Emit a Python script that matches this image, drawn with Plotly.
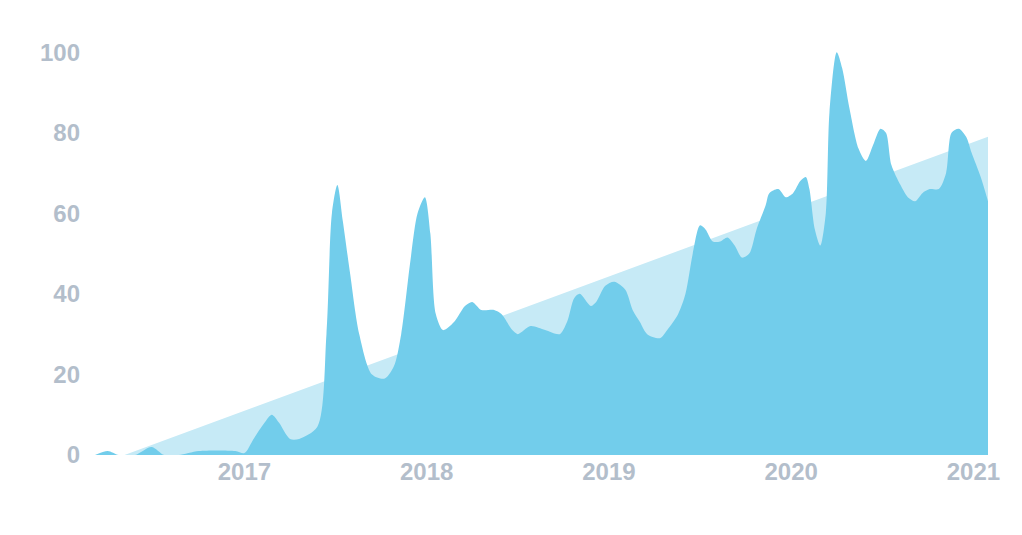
import plotly.graph_objects as go

# Interest over time (decimal years, 0-100 scale)
years = [2016.18, 2016.25, 2016.31, 2016.40, 2016.49, 2016.56, 2016.64, 2016.75, 2016.95, 2017.00,
         2017.05, 2017.11, 2017.15, 2017.19, 2017.25, 2017.30, 2017.40, 2017.45, 2017.48, 2017.51,
         2017.54, 2017.58, 2017.63, 2017.70, 2017.77, 2017.82, 2017.86, 2017.91, 2017.95, 2017.99,
         2018.02, 2018.05, 2018.09, 2018.15, 2018.21, 2018.25, 2018.30, 2018.37, 2018.41, 2018.47,
         2018.50, 2018.57, 2018.65, 2018.73, 2018.77, 2018.81, 2018.84, 2018.90, 2018.93, 2018.98,
         2019.03, 2019.09, 2019.13, 2019.17, 2019.21, 2019.28, 2019.32, 2019.38, 2019.42, 2019.46,
         2019.50, 2019.53, 2019.57, 2019.61, 2019.65, 2019.69, 2019.73, 2019.77, 2019.81, 2019.86,
         2019.88, 2019.93, 2019.97, 2020.01, 2020.05, 2020.08, 2020.10, 2020.13, 2020.16, 2020.19,
         2020.21, 2020.25, 2020.28, 2020.32, 2020.37, 2020.41, 2020.45, 2020.49, 2020.52, 2020.55,
         2020.60, 2020.64, 2020.68, 2020.72, 2020.76, 2020.81, 2020.85, 2020.88, 2020.92, 2020.96,
         2020.99, 2021.04, 2021.08]
interest = [0, 1, 0, 0, 2, 0, 0, 1, 1, 0.5,
            4, 8, 10, 8, 4, 4, 7, 30, 60, 67,
            58, 45, 30, 20, 19, 22, 30, 48, 60, 64,
            55, 35, 31, 33, 37, 38, 36, 36, 35, 31,
            30, 32, 31, 30, 33, 39, 40, 37, 38, 42,
            43, 41, 36, 33, 30, 29, 31, 35, 40, 50,
            57, 56, 53, 53, 54, 52, 49, 50, 56, 62,
            65, 66, 64, 65, 68, 69, 66, 56, 52, 60,
            85, 100, 96, 86, 76, 73, 77, 81, 80, 72,
            67, 64, 63, 65, 66, 66, 70, 80, 81, 79,
            75, 69, 63]

# linear trend
trend_x = [2016.18, 2021.08]
trend_y = [-2.7, 79]

fig = go.Figure()

fig.add_trace(go.Scatter(x=trend_x, y=trend_y, mode='lines', fill='tozeroy',
                         line=dict(width=0, color='#c6eaf6'), fillcolor='#c6eaf6',
                         hoverinfo='skip', showlegend=False))

fig.add_trace(go.Scatter(x=years, y=interest, mode='lines', fill='tozeroy',
                         line=dict(width=0, color='#72cdeb', shape='spline', smoothing=0.8),
                         fillcolor='#72cdeb', showlegend=False))

tick_font = dict(family='Liberation Sans, Arial', size=24, color='#b3becb', weight='bold')

fig.update_layout(width=1022, height=535,
                  margin=dict(l=87, r=42, t=24, b=88),
                  plot_bgcolor='white', paper_bgcolor='white',
                  xaxis=dict(range=[2016.18, 2021.08], tickvals=[2017, 2018, 2019, 2020, 2021],
                             showgrid=False, zeroline=False, ticks='', tickfont=tick_font),
                  yaxis=dict(range=[0, 105], tickvals=[0, 20, 40, 60, 80, 100],
                             showgrid=False, zeroline=False, ticks='', ticklabelstandoff=14,
                             tickfont=tick_font))

fig.write_html("out.html")
